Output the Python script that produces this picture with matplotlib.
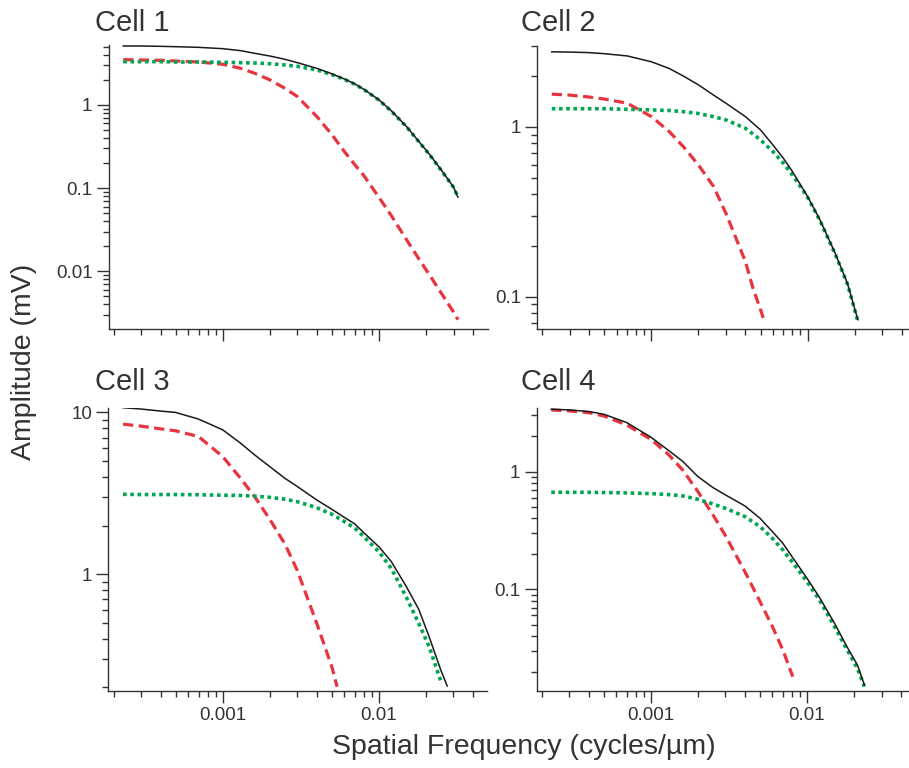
import matplotlib
matplotlib.use("Agg")
import matplotlib.pyplot as plt
from matplotlib.ticker import LogLocator, NullFormatter, FixedLocator, FixedFormatter

plt.rcParams['font.family'] = ['Liberation Sans', 'DejaVu Sans']

# ---------------- data ----------------
freq = [0.00023, 0.0003, 0.0004, 0.0005, 0.0007, 0.001, 0.0013, 0.0016, 0.002,
        0.0025, 0.003, 0.004, 0.005, 0.006, 0.007, 0.008, 0.01, 0.012, 0.015,
        0.018, 0.021, 0.025, 0.03, 0.032]

# Cell 1
c1_total = [5.11, 5.11, 5.06, 5.01, 4.92, 4.74, 4.49, 4.17, 3.87, 3.53, 3.22, 2.75,
            2.36, 2.05, 1.79, 1.54, 1.15, 0.847, 0.55, 0.363, 0.256, 0.166, 0.103, 0.078]
c1_surround = [3.31, 3.31, 3.31, 3.28, 3.28, 3.25, 3.22, 3.19, 3.13, 3.02, 2.91, 2.63,
               2.31, 2.03, 1.77, 1.53, 1.14, 0.839, 0.545, 0.36, 0.254, 0.164, 0.102, 0.079]
c1_center = [3.50, 3.47, 3.44, 3.37, 3.28, 3.08, 2.75, 2.40, 2.00, 1.58, 1.26, 0.724,
             0.437, 0.275, 0.191, 0.141, 0.0773, 0.0466, 0.0240, 0.0141, 0.00912,
             0.0055, 0.00325, 0.00263]

# Cell 2
c2_x = [0.00023, 0.0003, 0.0004, 0.0005, 0.0007, 0.001, 0.0013, 0.0016, 0.002,
        0.0025, 0.003, 0.004, 0.005, 0.006, 0.007, 0.008, 0.01, 0.012, 0.015,
        0.018, 0.021]
c2_total = [2.77, 2.76, 2.74, 2.70, 2.62, 2.42, 2.21, 1.995, 1.77, 1.54, 1.38, 1.15,
            0.96, 0.783, 0.654, 0.546, 0.389, 0.284, 0.181, 0.120, 0.0732]
c2_surround = [1.28, 1.28, 1.28, 1.28, 1.27, 1.26, 1.25, 1.23, 1.20, 1.15, 1.10, 0.982,
               0.839, 0.716, 0.611, 0.522, 0.386, 0.281, 0.179, 0.119, 0.0716]
c2_center_x = [0.00023, 0.0003, 0.0004, 0.0005, 0.0007, 0.001, 0.0013, 0.0016, 0.002,
               0.0025, 0.003, 0.004, 0.0045, 0.005, 0.0052]
c2_center = [1.56, 1.54, 1.50, 1.46, 1.38, 1.15, 0.939, 0.766, 0.597, 0.446, 0.310,
             0.161, 0.110, 0.0839, 0.075]

# Cell 3
c3_x = [0.00023, 0.0003, 0.0004, 0.0005, 0.0007, 0.001, 0.0013, 0.0016, 0.002,
        0.0025, 0.003, 0.004, 0.005, 0.006, 0.007, 0.008, 0.01, 0.012, 0.015,
        0.018, 0.021, 0.025, 0.0274]
c3_total = [10.7, 10.5, 10.2, 10.0, 9.10, 7.81, 6.46, 5.47, 4.63, 3.92, 3.49, 2.88,
            2.52, 2.25, 2.05, 1.81, 1.48, 1.20, 0.839, 0.608, 0.411, 0.254, 0.204]
c3_surround_x = c3_x[:22]
c3_surround = [3.12, 3.11, 3.11, 3.11, 3.10, 3.08, 3.07, 3.04, 2.99, 2.91, 2.81, 2.58,
               2.35, 2.12, 1.93, 1.71, 1.38, 1.09, 0.721, 0.498, 0.357, 0.217]
c3_center_x = [0.00023, 0.0003, 0.0004, 0.0005, 0.0007, 0.001, 0.0013, 0.0016, 0.002,
               0.0025, 0.003, 0.004, 0.005, 0.0054]
c3_center = [8.47, 8.23, 7.92, 7.70, 7.10, 5.34, 3.92, 3.02, 2.19, 1.54, 1.06, 0.498,
             0.268, 0.202]

# Cell 4
c4_x = [0.00023, 0.0003, 0.0004, 0.0005, 0.0007, 0.001, 0.0013, 0.0016, 0.002,
        0.0025, 0.003, 0.004, 0.005, 0.006, 0.007, 0.008, 0.01, 0.012, 0.015,
        0.018, 0.021, 0.0233]
c4_total = [3.39, 3.34, 3.24, 3.07, 2.61, 1.96, 1.51, 1.22, 0.907, 0.731, 0.634, 0.511,
            0.401, 0.309, 0.246, 0.190, 0.124, 0.0855, 0.0514, 0.0326, 0.0228, 0.0154]
c4_surround = [0.667, 0.667, 0.667, 0.664, 0.659, 0.650, 0.638, 0.621, 0.582, 0.531,
               0.488, 0.415, 0.341, 0.271, 0.216, 0.172, 0.116, 0.0811, 0.0482, 0.0309,
               0.0213, 0.0149]
c4_center_x = [0.00023, 0.0003, 0.0004, 0.0005, 0.0007, 0.001, 0.0013, 0.0016, 0.002,
               0.0025, 0.003, 0.004, 0.005, 0.006, 0.007, 0.0081]
c4_center = [3.34, 3.28, 3.17, 2.97, 2.49, 1.88, 1.39, 1.03, 0.676, 0.428, 0.286, 0.141,
             0.0786, 0.0482, 0.0305, 0.0181]

titles = ["Cell 1", "Cell 2", "Cell 3", "Cell 4"]
xlabel = "Spatial Frequency (cycles/\u00b5m)"
ylabel = "Amplitude (mV)"
xtick_vals = [0.001, 0.01]
xtick_labels = ["0.001", "0.01"]
ytick_sets = [([0.01, 0.1, 1], ["0.01", "0.1", "1"]),
              ([0.1, 1], ["0.1", "1"]),
              ([1, 10], ["1", "10"]),
              ([0.1, 1], ["0.1", "1"])]
ylims = [(0.00203, 5.25), (0.0645, 3.01), (0.190, 10.7), (0.01368, 3.45)]

panels = [
    (freq, c1_total, freq, c1_surround, freq, c1_center),
    (c2_x, c2_total, c2_x, c2_surround, c2_center_x, c2_center),
    (c3_x, c3_total, c3_surround_x, c3_surround, c3_center_x, c3_center),
    (c4_x, c4_total, c4_x, c4_surround, c4_center_x, c4_center),
]

# ---------------- layout ----------------
W, H = 909, 768
fig = plt.figure(figsize=(W / 100, H / 100), dpi=100)
fig.patch.set_facecolor('white')

# pixel boxes: left, top, right, bottom
boxes = [(108.5, 45, 487.5, 329), (537, 45.7, 916, 329),
         (108.3, 407.7, 487.3, 691), (536.5, 408.3, 915.5, 691)]
title_pos = [(95, 31), (520.7, 31), (95, 390), (520.7, 390)]

TXT = '#333333'
RED = '#e8343f'
GREEN = '#00a651'
BLACK = '#1a1a1a'

for i, (box, pdata) in enumerate(zip(boxes, panels)):
    l, t, r, b = box
    ax = fig.add_axes([l / W, 1 - b / H, (r - l) / W, (b - t) / H])
    ax.set_xscale('log')
    ax.set_yscale('log')
    tx, ty, sx, sy, cx, cy = pdata
    ax.plot(cx, cy, color=RED, lw=2.3, dashes=(3.2, 1.7), dash_capstyle='butt', zorder=2)
    ax.plot(sx, sy, color=GREEN, lw=2.6, dashes=(1.0, 1.0), dash_capstyle='butt', zorder=3)
    ax.plot(tx, ty, color=BLACK, lw=1.1, zorder=4)
    ax.set_xlim(1.85e-4, 0.0495)
    ax.set_ylim(*ylims[i])
    for s in ['top', 'right']:
        ax.spines[s].set_visible(False)
    for s in ['left', 'bottom']:
        ax.spines[s].set_color('#333333')
        ax.spines[s].set_linewidth(1.0)
        ax.spines[s].set_clip_on(False)
    ax.patch.set_alpha(0)
    ax.xaxis.set_major_locator(FixedLocator(xtick_vals))
    if i >= 2:
        ax.xaxis.set_major_formatter(FixedFormatter(xtick_labels))
    else:
        ax.xaxis.set_major_formatter(NullFormatter())
    ax.xaxis.set_minor_locator(LogLocator(base=10, subs=range(2, 10), numticks=20))
    ax.xaxis.set_minor_formatter(NullFormatter())
    yv, yl = ytick_sets[i]
    ax.yaxis.set_major_locator(FixedLocator(yv))
    ax.yaxis.set_major_formatter(FixedFormatter(yl))
    ax.yaxis.set_minor_locator(LogLocator(base=10, subs=range(2, 10), numticks=20))
    ax.yaxis.set_minor_formatter(NullFormatter())
    ax.tick_params(which='major', direction='out', length=8.6, width=1.0,
                   color='#333333', labelsize=13.5, labelcolor=TXT, pad=3)
    ax.tick_params(which='minor', direction='out', length=4.3, width=1.0, color='#333333')
    tpx, tpy = title_pos[i]
    fig.text(tpx / W, 1 - tpy / H, titles[i], fontsize=21, color=TXT,
             ha='left', va='baseline')

fig.text(24 / W, 1 - 362 / H, ylabel, rotation=90, fontsize=20.5, color=TXT,
         ha='center', va='center')
fig.text(524 / W, 1 - 747 / H, xlabel, fontsize=20.5, color=TXT,
         ha='center', va='center')

fig.savefig('out.png', dpi=100)
